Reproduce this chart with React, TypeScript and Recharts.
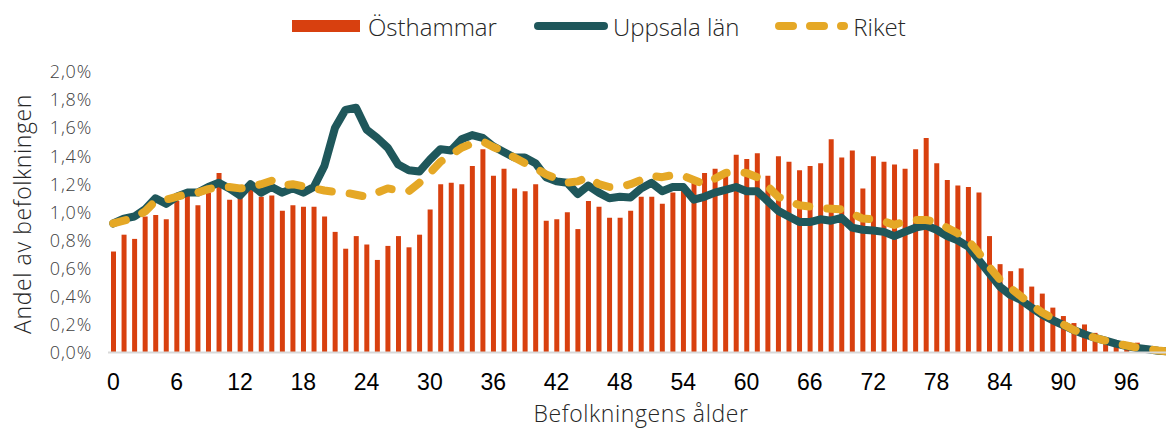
import React from 'react';
import { ComposedChart, Bar, Line, XAxis, YAxis, Legend, Label } from 'recharts';

const ages: string[] = Array.from({ length: 101 }, (_, i) => String(i));

const osthammar: number[] = [
  0.72, 0.84, 0.81, 0.97, 0.98, 0.95, 1.08, 1.12, 1.05, 1.14,
  1.28, 1.09, 1.11, 1.16, 1.11, 1.12, 1.01, 1.05, 1.04, 1.04,
  0.97, 0.86, 0.74, 0.83, 0.77, 0.66, 0.76, 0.83, 0.75, 0.84,
  1.02, 1.20, 1.21, 1.20, 1.33, 1.45, 1.26, 1.31, 1.17, 1.15,
  1.20, 0.94, 0.95, 1.00, 0.88, 1.08, 1.04, 0.96, 0.96, 1.01,
  1.11, 1.11, 1.06, 1.14, 1.20, 1.21, 1.28, 1.31, 1.29, 1.41,
  1.38, 1.42, 1.26, 1.40, 1.36, 1.30, 1.33, 1.35, 1.52, 1.39,
  1.44, 1.17, 1.40, 1.36, 1.34, 1.31, 1.45, 1.53, 1.35, 1.23,
  1.19, 1.18, 1.14, 0.83, 0.63, 0.58, 0.60, 0.47, 0.42, 0.32,
  0.26, 0.21, 0.20, 0.14, 0.11, 0.08, 0.07, 0.07, 0.04, 0.02,
  0.01,
];

const uppsala: number[] = [
  0.92, 0.955, 0.97, 1.02, 1.10, 1.06, 1.11, 1.14, 1.14, 1.18,
  1.21, 1.17, 1.12, 1.20, 1.14, 1.18, 1.14, 1.17, 1.14, 1.18,
  1.33, 1.60, 1.73, 1.745, 1.59, 1.53, 1.46, 1.34, 1.30, 1.29,
  1.375, 1.45, 1.44, 1.52, 1.55, 1.53, 1.47, 1.43, 1.39, 1.39,
  1.35, 1.25, 1.22, 1.21, 1.13, 1.19, 1.14, 1.10, 1.11, 1.105,
  1.17, 1.21, 1.15, 1.18, 1.18, 1.09, 1.11, 1.14, 1.16, 1.18,
  1.15, 1.15, 1.08, 1.01, 0.97, 0.93, 0.93, 0.95, 0.94, 0.96,
  0.89, 0.875, 0.87, 0.86, 0.83, 0.86, 0.89, 0.905, 0.875, 0.83,
  0.80, 0.755, 0.66, 0.565, 0.47, 0.41, 0.375, 0.32, 0.27, 0.23,
  0.196, 0.16, 0.13, 0.105, 0.085, 0.063, 0.046, 0.032, 0.023, 0.013,
  0.008,
];

const riket: number[] = [
  0.92, 0.94, 0.96, 1.005, 1.08, 1.09, 1.11, 1.13, 1.14, 1.165,
  1.18, 1.18, 1.17, 1.18, 1.20, 1.225, 1.19, 1.20, 1.185, 1.17,
  1.155, 1.145, 1.14, 1.125, 1.11, 1.14, 1.17, 1.155, 1.15, 1.21,
  1.28, 1.36, 1.41, 1.46, 1.49, 1.505, 1.465, 1.435, 1.39, 1.35,
  1.315, 1.27, 1.24, 1.21, 1.22, 1.25, 1.20, 1.18, 1.18, 1.20,
  1.23, 1.26, 1.25, 1.265, 1.26, 1.23, 1.20, 1.24, 1.28, 1.29,
  1.28, 1.25, 1.185, 1.11, 1.08, 1.05, 1.04, 1.03, 1.025, 1.02,
  0.99, 0.955, 0.95, 0.935, 0.91, 0.935, 0.945, 0.945, 0.93, 0.89,
  0.85, 0.80, 0.71, 0.61, 0.52, 0.46, 0.40, 0.34, 0.285, 0.245,
  0.20, 0.16, 0.13, 0.105, 0.085, 0.065, 0.05, 0.035, 0.024, 0.014,
  0.008,
];

const yTicks: number[] = [0, 0.2, 0.4, 0.6, 0.8, 1.0, 1.2, 1.4, 1.6, 1.8, 2.0];

const seriesNames = { osthammar: 'Östhammar', uppsala: 'Uppsala län', riket: 'Riket' };

const COLOR_BAR = '#D8400F';
const COLOR_TEAL = '#1F575B';
const COLOR_GOLD = '#E5A826';
const FONT = '"Open Sans", "DejaVu Sans", sans-serif';

const data = ages.map((age, i) => ({
  age,
  osthammar: osthammar[i],
  uppsala: uppsala[i],
  riket: riket[i],
}));

const fmtPct = (v: number) => v.toFixed(1).replace('.', ',') + '%';

const LegendContent = () => (
  <div
    style={{
      display: 'flex',
      alignItems: 'center',
      height: 40,
      paddingLeft: 292,
      fontFamily: FONT,
      fontWeight: 300,
      fontSize: 24,
      color: '#262626',
      whiteSpace: 'nowrap',
    }}
  >
    <svg width={68} height={12} style={{ marginRight: 8 }}>
      <rect x={0} y={0} width={68} height={12} fill={COLOR_BAR} />
    </svg>
    <span>{seriesNames.osthammar}</span>
    <svg width={74} height={10} style={{ marginLeft: 37, marginRight: 5 }}>
      <line x1={4} y1={5} x2={70} y2={5} stroke={COLOR_TEAL} strokeWidth={8} strokeLinecap="round" />
    </svg>
    <span>{seriesNames.uppsala}</span>
    <svg width={73} height={10} style={{ marginLeft: 36, marginRight: 5 }}>
      <line x1={4} y1={5} x2={69} y2={5} stroke={COLOR_GOLD} strokeWidth={8} strokeLinecap="round" strokeDasharray="14 17" />
    </svg>
    <span>{seriesNames.riket}</span>
  </div>
);

const YTitle = () => (
  <text
    x={22}
    y={214}
    transform="rotate(-90 22 214)"
    textAnchor="middle"
    dominantBaseline="central"
    fontFamily={FONT}
    fontWeight={300}
    fontSize={23}
    letterSpacing={0.6}
    fill="#262626"
  >
    Andel av befolkningen
  </text>
);

export default function App() {
  return (
    <div style={{ position: 'absolute', left: 0, top: 0, width: 1166, height: 430, overflow: 'hidden', background: '#fff' }}>
      <ComposedChart
        width={1180}
        height={430}
        data={data}
        margin={{ top: 32, right: 6, left: 0, bottom: 0 }}
        barCategoryGap={0}
      >
        <Legend verticalAlign="top" align="left" height={40} wrapperStyle={{ top: 6, left: 0 }} content={<LegendContent />} />
        <XAxis
          dataKey="age"
          interval={5}
          height={77.5}
          tickLine={false}
          axisLine={{ stroke: '#D9D9D9', strokeWidth: 2 }}
          tickMargin={15}
          tick={{ fill: '#000', fontSize: 23, fontFamily: '"Liberation Sans", Arial, sans-serif' }}
        >
          <Label
            value="Befolkningens ålder"
            position="insideBottom"
            offset={8}
            style={{ fontFamily: FONT, fontWeight: 300, fontSize: 23, letterSpacing: 0.6, fill: '#262626' }}
          />
        </XAxis>
        <YAxis
          width={108}
          domain={[0, 2]}
          ticks={yTicks}
          tickFormatter={fmtPct}
          axisLine={false}
          tickLine={false}
          tickMargin={10}
          tick={{ fill: '#404040', fontSize: 18, fontFamily: FONT, fontWeight: 300, letterSpacing: 0.8 }}
        >
          <Label content={<YTitle />} />
        </YAxis>
        <Bar dataKey="osthammar" name={seriesNames.osthammar} fill={COLOR_BAR} barSize={5} isAnimationActive={false} />
        <Line
          dataKey="uppsala"
          name={seriesNames.uppsala}
          type="linear"
          stroke={COLOR_TEAL}
          strokeWidth={8}
          strokeLinecap="round"
          strokeLinejoin="round"
          dot={false}
          activeDot={false}
          isAnimationActive={false}
        />
        <Line
          dataKey="riket"
          name={seriesNames.riket}
          type="linear"
          stroke={COLOR_GOLD}
          strokeWidth={8}
          strokeLinecap="round"
          strokeLinejoin="round"
          strokeDasharray="13 18"
          dot={false}
          activeDot={false}
          isAnimationActive={false}
        />
      </ComposedChart>
    </div>
  );
}
